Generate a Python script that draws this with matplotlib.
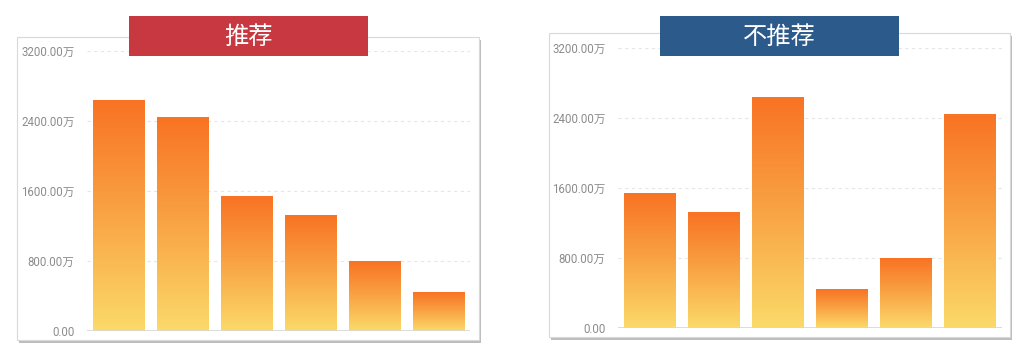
import matplotlib
matplotlib.use("Agg")
import matplotlib.pyplot as plt
import numpy as np
from matplotlib.patches import Rectangle
from matplotlib.colors import LinearSegmentedColormap

plt.rcParams['font.family'] = ['Roboto', 'Noto Sans CJK SC', 'DejaVu Sans']

# Data (values in 万)
categories = ["A", "B", "C", "D", "E", "F"]
recommended = [2640, 2440, 1535, 1325, 790, 440]
not_recommended = [1535, 1325, 2640, 440, 790, 2440]
titles = ["推荐", "不推荐"]
banner_colors = ["#C73840", "#2C5A8A"]
yticks = [0, 800, 1600, 2400, 3200]
ytick_labels = ["0.00", "800.00万", "1600.00万", "2400.00万", "3200.00万"]

W, H = 1026, 358
fig = plt.figure(figsize=(W / 100, H / 100), dpi=100)
fig.patch.set_facecolor("white")

cmap = LinearSegmentedColormap.from_list("grad", ["#FBDA6A", "#F9A445", "#F87323"])
grad = np.linspace(0, 1, 256).reshape(-1, 1)


def fx(px):
    return px / W


def fy(py):
    return 1 - py / H


def panel(box, ax_rect, banner, values, title, bcolor):
    # box with shadow
    bx0, by0, bx1, by1 = box
    shadow = Rectangle((fx(bx0 + 2), fy(by1 + 3)), fx(bx1 - bx0), (by1 - by0) / H,
                       transform=fig.transFigure, facecolor="#BDBDBD", edgecolor="none",
                       zorder=0)
    fig.patches.append(shadow)
    frame = Rectangle((fx(bx0), fy(by1)), fx(bx1 - bx0), (by1 - by0) / H,
                      transform=fig.transFigure, facecolor="white", edgecolor="#D9D9D9",
                      linewidth=0.8, zorder=1)
    fig.patches.append(frame)

    x0, y0, x1, y1 = ax_rect
    ax = fig.add_axes([fx(x0), fy(y1), fx(x1 - x0), (y1 - y0) / H])
    ax.set_zorder(2)
    ax.patch.set_alpha(0)
    n = len(values)
    for s in ax.spines.values():
        s.set_visible(False)
    ax.set_xticks([])
    ax.set_yticks(yticks)
    ax.set_yticklabels(ytick_labels)
    ax.tick_params(axis="y", length=0, pad=9, labelsize=8.3, labelcolor="#8C8C8C")
    for t in yticks[1:]:
        ax.axhline(t, color="#E6E6E6", linestyle=(0, (3, 3)), linewidth=0.8, zorder=1)
    ax.axhline(0, color="#D6D6D6", linewidth=1.2, zorder=3)
    width = 0.8
    for i, v in enumerate(values):
        ax.imshow(grad, extent=[i - width / 2, i + width / 2, 0, v], origin="lower",
                  cmap=cmap, aspect="auto", zorder=2, interpolation="bilinear")
    ax.set_xlim(-0.5, n - 0.5)
    ax.set_ylim(0, 3200)

    # banner
    lx0, ly0, lx1, ly1 = banner
    b = Rectangle((fx(lx0), fy(ly1)), fx(lx1 - lx0), (ly1 - ly0) / H,
                  transform=fig.transFigure, facecolor=bcolor, edgecolor="none", zorder=5)
    fig.patches.append(b)
    fig.text(fx((lx0 + lx1) / 2), fy((ly0 + ly1) / 2 + 1), title, color="white",
             fontsize=17.5, fontweight="medium", ha="center", va="center", zorder=6,
             family=['Noto Sans CJK SC', 'DejaVu Sans'])


panel((17, 37, 479, 340), (87, 51, 470, 331), (129, 16, 368, 56), recommended,
      titles[0], banner_colors[0])
panel((549, 33, 1010, 337), (618, 48, 1002, 328), (660, 16, 899, 56), not_recommended,
      titles[1], banner_colors[1])

fig.savefig("out.png", dpi=100, facecolor="white")
